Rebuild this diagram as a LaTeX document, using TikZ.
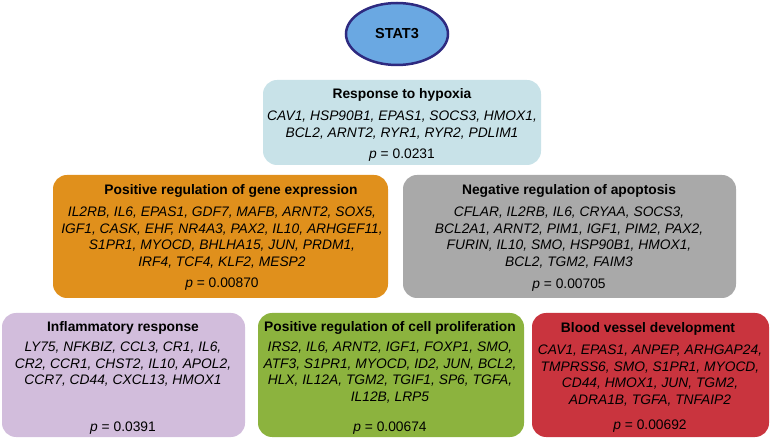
\documentclass[tikz,border=0pt]{standalone}
\usepackage{fontspec}
\setmainfont{Liberation Sans}
\usetikzlibrary{positioning,shapes.geometric}
\definecolor{statblue}{HTML}{6AA8E2}
\definecolor{statnavy}{HTML}{2E2A80}
\definecolor{hypoxiablue}{HTML}{C8E2E8}
\definecolor{geneorange}{HTML}{E0901C}
\definecolor{apopgray}{HTML}{A9A9A9}
\definecolor{inflpurple}{HTML}{D2BDDC}
\definecolor{prolgreen}{HTML}{8CB33E}
\definecolor{vesselred}{HTML}{C9343E}
\newcommand{\pval}[1]{\textit{p} = #1}

\begin{document}
\begin{tikzpicture}[x=1pt,y=-1pt,
  gobox/.style={rounded corners=14pt,inner sep=0pt},
  gotitle/.style={font=\fontsize{13.8}{16}\selectfont\bfseries,inner sep=0pt},
  golist/.style={font=\fontsize{13.8}{16.4}\selectfont\itshape,align=center,inner sep=0pt},
  gop/.style={font=\fontsize{13.8}{16}\selectfont,inner sep=0pt}]
\useasboundingbox (0,0) rectangle (777,438);
\node[ellipse,draw=statnavy,line width=2.5pt,fill=statblue,minimum width=102pt,minimum height=62pt,font=\fontsize{14.5}{16}\selectfont\bfseries] (stat) at (397,34) {STAT3};

% response to hypoxia
\filldraw[gobox,fill=hypoxiablue,draw=none] (263,80) rectangle (541,165);
\node[gotitle] (hypT) at (402,95) {Response to hypoxia};
\node[golist,anchor=north] (hypG) at (402,111) {CAV1, HSP90B1, EPAS1, SOCS3, HMOX1,\\BCL2, ARNT2, RYR1, RYR2, PDLIM1};
\node[gop] (hypP) at (402,155) {\pval{0.0231}};

% positive regulation of gene expression
\filldraw[gobox,fill=geneorange,draw=none] (53,175) rectangle (388,298);
\node[gotitle] (genT) at (231,191) {Positive regulation of gene expression};
\node[golist,anchor=north] (genG) at (222,207) {IL2RB, IL6, EPAS1, GDF7, MAFB, ARNT2, SOX5,\\IGF1, CASK, EHF, NR4A3, PAX2, IL10, ARHGEF11,\\S1PR1, MYOCD, BHLHA15, JUN, PRDM1,\\IRF4, TCF4, KLF2, MESP2};
\node[gop] (genP) at (222,284) {\pval{0.00870}};

% negative regulation of apoptosis
\filldraw[gobox,fill=apopgray,draw=none] (403,175) rectangle (736,298);
\node[gotitle] (apoT) at (569,191) {Negative regulation of apoptosis};
\node[golist,anchor=north] (apoG) at (569,207) {CFLAR, IL2RB, IL6, CRYAA, SOCS3,\\BCL2A1, ARNT2, PIM1, IGF1, PIM2, PAX2,\\FURIN, IL10, SMO, HSP90B1, HMOX1,\\BCL2, TGM2, FAIM3};
\node[gop] (apoP) at (569,285) {\pval{0.00705}};

% inflammatory response
\filldraw[gobox,fill=inflpurple,draw=none] (2,313) rectangle (245,437);
\node[gotitle] (infT) at (123,328) {Inflammatory response};
\node[golist,anchor=north] (infG) at (123,342) {LY75, NFKBIZ, CCL3, CR1, IL6,\\CR2, CCR1, CHST2, IL10, APOL2,\\CCR7, CD44, CXCL13, HMOX1};
\node[gop] (infP) at (123,428) {\pval{0.0391}};

% positive regulation of cell proliferation
\filldraw[gobox,fill=prolgreen,draw=none] (258,313) rectangle (524,437);
\node[gotitle] (proT) at (390,328) {Positive regulation of cell proliferation};
\node[golist,anchor=north] (proG) at (390,342) {IRS2, IL6, ARNT2, IGF1, FOXP1, SMO,\\ATF3, S1PR1, MYOCD, ID2, JUN, BCL2,\\HLX, IL12A, TGM2, TGIF1, SP6, TGFA,\\IL12B, LRP5};
\node[gop] (proP) at (390,428) {\pval{0.00674}};

% blood vessel development
\filldraw[gobox,fill=vesselred,draw=none] (532,313) rectangle (769,437);
\node[gotitle] (vesT) at (648,329) {Blood vessel development};
\node[golist,anchor=north] (vesG) at (650,345) {CAV1, EPAS1, ANPEP, ARHGAP24,\\TMPRSS6, SMO, S1PR1, MYOCD,\\CD44, HMOX1, JUN, TGM2,\\ADRA1B, TGFA, TNFAIP2};
\node[gop] (vesP) at (650,426) {\pval{0.00692}};
\end{tikzpicture}
\end{document}
